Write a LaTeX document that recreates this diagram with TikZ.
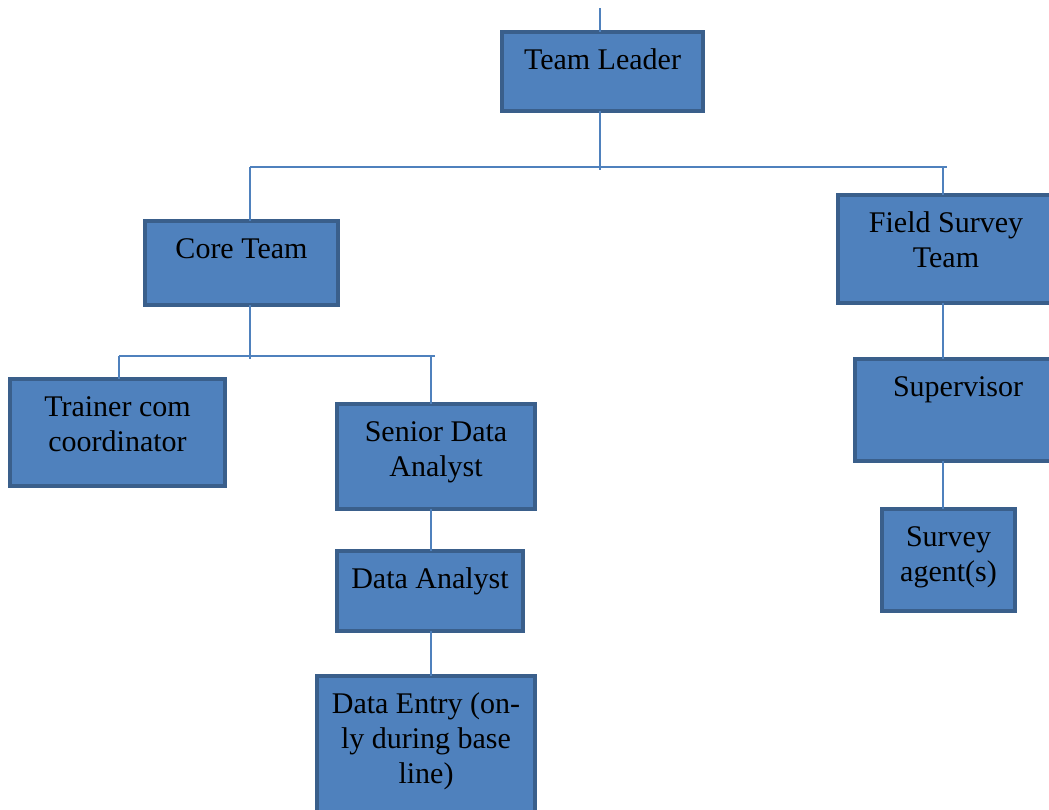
\documentclass[tikz,border=0pt]{standalone}
\usepackage{fontspec}
\setmainfont{Liberation Serif}
\definecolor{boxfill}{HTML}{4F81BD}
\definecolor{boxedge}{HTML}{3A5F8B}
\definecolor{linkblue}{HTML}{4F81BD}
\tikzset{
	orgbox/.style={draw=boxedge, fill=boxfill, line width=2pt, inner sep=0pt, outer sep=0pt},
	link/.style={draw=linkblue, line width=0.8pt}
}
% box text: width, height (in px), lines
\newcommand{\boxlines}[3]{\parbox[c][\dimexpr#2pt/2\relax][t]{\dimexpr#1pt/2\relax}{\centering\fontsize{15}{17.5}\selectfont\rule{0pt}{18.5pt}#3}}

\begin{document}
\begin{tikzpicture}[x=0.5pt, y=-0.5pt]
			%%%%% START %%%%%
			\path[use as bounding box, fill=white] (0, 0) rectangle (1049, 809);
			
			\node[orgbox] (tl) at (602.5, 71.5) {\boxlines{201}{79}{Team Leader}};
			\node[orgbox] (core) at (241.5, 263) {\boxlines{193}{84}{Core Team}};
			\node[orgbox] (field) at (946, 249) {\boxlines{216}{108}{Field Survey\\Team}};
			
			\node[orgbox] (trainer) at (117.5, 432.5) {\boxlines{215}{107}{Trainer com\\coordinator}};
			\node[orgbox] (senior) at (436, 456.5) {\boxlines{198}{105}{Senior Data\\Analyst}};
			\node[orgbox] (analyst) at (430, 591) {\boxlines{186}{80}{Data Analyst}};
			\node[orgbox] (entry) at (426, 757) {\boxlines{218}{162}{Data Entry (on-\\ly during base\\line)}};
			
			\node[orgbox] (supervisor) at (958, 410) {\boxlines{206}{102}{Supervisor}};
			\node[orgbox] (agent) at (948.5, 560) {\boxlines{133}{102}{Survey\\agent(s)}};
			
			% top level
			\coordinate (lead) at (600, 8);
			\coordinate (bus1) at (600, 170);
			\coordinate (bus1w) at (250, 167);
			\coordinate (bus1e) at (943, 167);
			\draw[link] (lead) -- (tl.north -| lead);
			\draw[link] (tl.south -| bus1) -- (bus1);
			\draw[link] (bus1w) -- ([xshift=2]bus1e);
			\draw[link] (bus1w) -- (bus1w |- core.north);
			\draw[link] (bus1e) -- (bus1e |- field.north);
			
			% core team
			\coordinate (bus2) at (250, 359);
			\coordinate (bus2w) at (119, 356);
			\coordinate (bus2e) at (431, 356);
			\draw[link] (core.south -| bus2) -- (bus2);
			\draw[link] (bus2w) -- ([xshift=2]bus2e);
			\draw[link] (bus2w) -- (bus2w |- trainer.north);
			\draw[link] (bus2e) -- (bus2e |- senior.north);
			\draw[link] (senior.south -| bus2e) -- (analyst.north -| bus2e);
			\draw[link] (analyst.south -| bus2e) -- (entry.north -| bus2e);
			
			% field survey team
			\draw[link] (field.south -| bus1e) -- (supervisor.north -| bus1e);
			\draw[link] (supervisor.south -| bus1e) -- (agent.north -| bus1e);
			%%%%% END %%%%%
\end{tikzpicture}
\end{document}
